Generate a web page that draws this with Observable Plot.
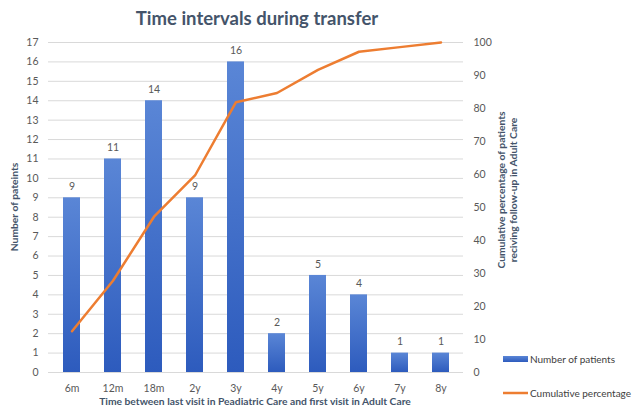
<!DOCTYPE html>
<html><head><meta charset="utf-8">
<script src="https://cdn.jsdelivr.net/npm/d3@7"></script>
<script src="https://cdn.jsdelivr.net/npm/@observablehq/plot@0.6"></script>
<style>body{margin:0;background:#fff;} #chart{position:relative;width:635px;height:408px;}</style>
</head><body><div id="chart"></div>
<script>
const categories = ["6m","12m","18m","2y","3y","4y","5y","6y","7y","8y"];
const patients = [9,11,14,9,16,2,5,4,1,1];
const cumulative = [12.5,27.8,47.2,59.7,81.9,84.7,91.7,97.2,98.6,100];
const leftTicks = d3.range(0,18);
const rightTicks = [0,10,20,30,40,50,60,70,80,90,100];

const k = 17/100;
const data = categories.map((c,i)=>({cat:c, n:patients[i], cum:cumulative[i]}));
const font = "Lato, Open Sans, sans-serif";

const plot = Plot.plot({
  width: 635, height: 408,
  marginLeft: 48, marginRight: 172, marginTop: 42, marginBottom: 36,
  style: {fontFamily: font, fontSize: "10.5px", color: "#595959", background: "#fff"},
  x: {domain: categories, paddingInner: 0.59, paddingOuter: 0.295, label: null},
  y: {domain: [0,17], label: null},
  marks: [
    Plot.gridY(leftTicks, {stroke: "#d9d9d9", strokeOpacity: 1, strokeWidth: 1}),
    Plot.axisY(leftTicks, {anchor: "left", tickSize: 0, tickPadding: 10, label: null, fill: "#595959"}),
    Plot.axisY(rightTicks.map(v=>v*k), {anchor: "right", tickSize: 0, tickPadding: 10, label: null, tickFormat: d => Math.round(d/k), fill: "#595959"}),
    Plot.axisX({tickSize: 0, tickPadding: 12, label: null, fill: "#595959"}),
    Plot.barY(data, {x: "cat", y: "n", fill: "url(#barGrad)"}),
    Plot.line(data, {x: "cat", y: d => d.cum*k, stroke: "#ed7d31", strokeWidth: 2.5, curve: "linear", strokeLinejoin: "round"}),
    Plot.text(data, {x: "cat", y: "n", text: d => String(d.n), dy: -11, fill: "#595959", fontSize: 10.5})
  ]
});

const svg = d3.select(plot);
const defs = svg.insert("defs", ":first-child");
const g = defs.append("linearGradient").attr("id","barGrad").attr("x1",0).attr("y1",0).attr("x2",0).attr("y2",1);
g.append("stop").attr("offset","0%").attr("stop-color","#5a86d6");
g.append("stop").attr("offset","100%").attr("stop-color","#2d5bbd");

// Title
svg.append("text").attr("x",257).attr("y",25).attr("text-anchor","middle")
  .attr("font-family",font).attr("font-size",18.5).attr("font-weight","bold").attr("fill","#44546a")
  .text("Time intervals during transfer");
// X axis title
svg.append("text").attr("x",255).attr("y",405).attr("text-anchor","middle")
  .attr("font-family",font).attr("font-size",10.3).attr("font-weight","bold").attr("fill","#44546a")
  .text("Time between last visit in Peadiatric Care and first visit in Adult Care");
// Left y title
svg.append("text").attr("transform","translate(18,207) rotate(-90)").attr("text-anchor","middle")
  .attr("font-family",font).attr("font-size",10.3).attr("font-weight","bold").attr("fill","#44546a")
  .text("Number of pateints");
// Right y title
const rt = svg.append("text").attr("transform","translate(505,190) rotate(-90)").attr("text-anchor","middle")
  .attr("font-family",font).attr("font-size",10.3).attr("font-weight","bold").attr("fill","#44546a");
rt.append("tspan").attr("x",0).attr("y",0).text("Cumulative percentage of patients");
rt.append("tspan").attr("x",0).attr("y",11.5).text("reciving follow-up in Adult Care");
// Legend
const lg = svg.append("g").attr("font-family",font).attr("font-size",10).attr("fill","#404040").attr("text-anchor","start");
lg.append("rect").attr("x",503).attr("y",356).attr("width",25).attr("height",6).attr("fill","url(#barGrad)");
lg.append("text").attr("x",530).attr("y",359).attr("dy","0.35em").attr("text-anchor","start").text("Number of patients");
lg.append("line").attr("x1",503).attr("x2",528).attr("y1",393).attr("y2",393).attr("stroke","#ed7d31").attr("stroke-width",2.5);
lg.append("text").attr("x",530).attr("y",393).attr("dy","0.35em").attr("text-anchor","start").text("Cumulative percentage");

document.getElementById("chart").appendChild(plot);
</script></body></html>
